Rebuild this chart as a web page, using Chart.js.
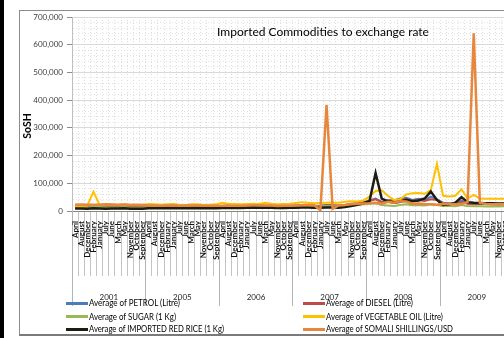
<!DOCTYPE html>
<html><head><meta charset="utf-8">
<script src="https://cdn.jsdelivr.net/npm/chart.js@4.4.1/dist/chart.umd.min.js"></script>
<style>
html,body{margin:0;padding:0;width:504px;height:338px;overflow:hidden;background:#fff;}
#bar{position:absolute;left:0;top:0;width:4px;height:338px;background:#000;}
#frame{position:absolute;left:19px;top:10px;width:620px;height:323px;border:1px solid #8c8c8c;border-bottom:2px solid #7a7a7a;background:#fff;}
#wrap{position:absolute;left:0;top:0;width:520px;height:338px;}
#legend .item{position:absolute;display:flex;align-items:center;font:9.2px Lato, sans-serif;color:#000;white-space:nowrap;height:10px;line-height:10px;}
#legend .sw{display:inline-block;width:22px;height:3px;margin-right:1px;flex:none;}
#legend .tx{display:inline-block;transform-origin:0 50%;}
</style></head>
<body>
<div id="bar"></div>
<div id="frame"></div>
<div id="wrap"><canvas id="c" width="520" height="338"></canvas></div>
<div id="legend"></div>
<script>
const TITLE = 'Imported Commodities to exchange rate';
const Y_TITLE = 'SoSH';
const YEARS = ['2001', '2005', '2006', '2007', '2008', '2009'];
const MONTHS = ['April', 'August', 'December', 'February', 'January', 'July', 'June', 'March', 'May', 'November', 'October', 'September'];
const SERIES_NAMES = ['Average of PETROL (Litre)', 'Average of DIESEL (Litre)', 'Average of SUGAR (1 Kg)', 'Average of VEGETABLE OIL (Litre)', 'Average of IMPORTED RED RICE (1 Kg)', 'Average of SOMALI SHILLINGS/USD'];
const SERIES_COLORS = ['#4A7EBB', '#BE4B48', '#98B954', '#FFC000', '#1E1C11', '#E6873D'];

const PETROL = [
  20000, 19000, 18000, 19000, 20000, 18000, 18000, 19000, 20000, 17000, 18000, 18000,
  17000, 18000, 17000, 17000, 17000, 18000, 18000, 17000, 18000, 17000, 17000, 18000,
  18000, 20000, 17000, 18000, 18000, 22000, 21000, 19000, 20000, 17000, 18000, 19000,
  20000, 21000, 22000, 20000, 19000, 22000, 21000, 20000, 22000, 26000, 28000, 32000,
  38000, 45000, 33000, 40000, 38000, 45000, 48000, 40000, 44000, 38000, 52000, 42000,
  30000, 28000, 26000, 38000, 28000, 26000, 27000, 27000, 26000, 25000, 26000, 25000];
const DIESEL = [
  17000, 16000, 16000, 17000, 17000, 16000, 16000, 16000, 17000, 15000, 15000, 16000,
  16000, 17000, 16000, 16000, 16000, 17000, 17000, 16000, 17000, 16000, 16000, 17000,
  17000, 19000, 16000, 17000, 17000, 20000, 19000, 18000, 18000, 16000, 17000, 18000,
  19000, 20000, 21000, 19000, 18000, 21000, 20000, 19000, 21000, 24000, 27000, 30000,
  36000, 42000, 32000, 38000, 36000, 40000, 42000, 38000, 40000, 36000, 42000, 40000,
  28000, 26000, 24000, 32000, 26000, 24000, 25000, 25000, 24000, 23000, 24000, 23000];
const SUGAR = [
  14000, 13000, 13000, 14000, 14000, 13000, 13000, 13000, 14000, 12000, 12000, 13000,
  13000, 14000, 13000, 13000, 13000, 14000, 14000, 13000, 14000, 13000, 13000, 14000,
  14000, 16000, 14000, 14000, 14000, 17000, 16000, 15000, 15000, 14000, 14000, 15000,
  16000, 17000, 18000, 16000, 16000, 18000, 17000, 16000, 18000, 20000, 22000, 24000,
  26000, 28000, 22000, 20000, 18000, 22000, 24000, 21000, 22000, 20000, 24000, 22000,
  18000, 18000, 17000, 22000, 18000, 17000, 17000, 16000, 16000, 16000, 17000, 17000];
const VEG_OIL = [
  19000, 18000, 20000, 70000, 22000, 24000, 23000, 22000, 24000, 23000, 22000, 23000,
  25000, 24000, 23000, 24000, 25000, 23000, 22000, 24000, 24000, 22000, 23000, 24000,
  30000, 26000, 25000, 24000, 25000, 26000, 25000, 30000, 26000, 24000, 25000, 26000,
  29000, 32000, 30000, 28000, 29000, 30000, 31000, 30000, 33000, 35000, 34000, 38000,
  52000, 72000, 75000, 55000, 40000, 42000, 60000, 64000, 65000, 62000, 75000, 170000,
  55000, 52000, 55000, 78000, 45000, 58000, 45000, 44000, 44000, 44000, 44000, 44000];
const RED_RICE = [
  9000, 9000, 8500, 9500, 9000, 8500, 9000, 9000, 9500, 8500, 8000, 8500,
  10000, 10000, 9500, 10000, 10000, 10500, 10000, 10000, 10500, 9500, 9500, 10000,
  11000, 12000, 11000, 11000, 11500, 12500, 12000, 11500, 12000, 11000, 11000, 11500,
  12000, 13000, 13000, 12000, 12000, 13000, 13000, 12000, 14000, 18000, 22000, 28000,
  35000, 137000, 45000, 35000, 30000, 33000, 40000, 35000, 38000, 45000, 70000, 40000,
  22000, 24000, 30000, 50000, 32000, 30000, 29000, 28000, 28000, 27000, 27000, 27000];
const SHILLINGS = [
  23000, 23500, 22500, 23000, 23000, 24000, 23500, 23000, 23500, 22000, 22500, 22000,
  20000, 19500, 19000, 20000, 20500, 19000, 19500, 20000, 19500, 18500, 18500, 19000,
  19000, 20000, 18500, 19000, 19500, 21000, 20500, 19500, 20000, 18000, 18500, 19000,
  20000, 21000, 22000, 20500, 3000, 383000, 8000, 21000, 22000, 24000, 26000, 27000,
  28000, 30000, 26000, 33000, 30000, 35000, 34000, 26000, 27000, 25000, 24000, 23000,
  26000, 25000, 24000, 25000, 33000, 641000, 30000, 25000, 24000, 24000, 24000, 23000];

const SERIES = [PETROL, DIESEL, SUGAR, VEG_OIL, RED_RICE, SHILLINGS];
const LINE_WIDTHS = [2, 2, 2, 2, 2.5, 2.5];
const labels = YEARS.flatMap(() => MONTHS);

const overlayText = {
  id: 'overlayText',
  afterDraw(chart) {
    const ctx = chart.ctx, a = chart.chartArea;
    ctx.save();
    ctx.fillStyle = '#000';
    ctx.textAlign = 'center';
    ctx.textBaseline = 'middle';
    ctx.font = '12px Lato, sans-serif';
    ctx.fillText(TITLE, a.left + 251, a.top + 15);
    ctx.translate(a.left - 44, a.top + 109);
    ctx.rotate(-Math.PI / 2);
    ctx.font = 'bold 10.5px Lato, sans-serif';
    ctx.fillText(Y_TITLE, 0, 0);
    ctx.restore();
  }
};

const isMajor = (ctx) => ctx.tick && ctx.tick.value % 100000 === 0;

new Chart(document.getElementById('c'), {
  type: 'line',
  data: {
    labels: labels,
    datasets: SERIES.map((d, i) => ({
      label: SERIES_NAMES[i],
      data: d,
      borderColor: SERIES_COLORS[i],
      backgroundColor: SERIES_COLORS[i],
      borderWidth: LINE_WIDTHS[i],
      pointRadius: 0,
      tension: 0,
      order: SERIES.length - i,
      xAxisID: 'x'
    }))
  },
  options: {
    responsive: false,
    devicePixelRatio: 1,
    animation: false,
    events: [],
    layout: { padding: { left: 20, right: 6.4, top: 17, bottom: 0 } },
    plugins: { legend: { display: false }, tooltip: { enabled: false }, title: { display: false } },
    scales: {
      x: {
        type: 'category',
        position: 'bottom',
        offset: true,
        weight: 1,
        grid: {
          offset: true,
          color: '#dcdcdc',
          lineWidth: 1,
          drawTicks: true,
          tickLength: 65,
          tickColor: '#c4c4c4',
          tickBorderDash: []
        },
        border: { display: true, color: '#868686', width: 1, dash: (c) => c.tick ? [1, 2] : [] },
        ticks: {
          autoSkip: false,
          minRotation: 90,
          maxRotation: 90,
          padding: -55,
          color: '#111',
          font: { family: 'Lato', size: 8, weight: 'bold' }
        },
        afterFit: (s) => { s.height = 127; }
      },
      x2: {
        type: 'category',
        labels: YEARS,
        position: 'bottom',
        offset: true,
        weight: 0,
        grid: {
          offset: true,
          drawOnChartArea: false,
          drawTicks: true,
          tickLength: 95,
          tickColor: '#b4b4b4'
        },
        border: { display: false },
        ticks: {
          autoSkip: false,
          maxRotation: 0,
          minRotation: 0,
          mirror: true,
          padding: -90.8,
          color: '#262626',
          font: { family: 'Lato', size: 8 }
        },
        afterFit: (s) => { s.height = 0; }
      },
      y: {
        type: 'linear',
        position: 'left',
        min: 0,
        max: 700000,
        grid: {
          color: (c) => isMajor(c) ? '#d9d9d9' : '#e3e3e3',
          tickColor: (c) => isMajor(c) ? '#8c8c8c' : 'rgba(0,0,0,0)',
          tickLength: 5,
          drawTicks: true
        },
        border: { display: true, color: '#bfbfbf', dash: (c) => (c.tick && c.tick.value % 100000 !== 0) ? [1, 2] : [] },
        ticks: {
          stepSize: 20000,
          autoSkip: false,
          padding: 4,
          color: '#404040',
          font: { family: 'Lato', size: 8 },
          callback: (v) => v % 100000 === 0 ? v.toLocaleString('en-US') : ''
        },
        afterFit: (s) => { s.width = 52; }
      }
    }
  },
  plugins: [overlayText]
});

// HTML legend, two columns, row-major order; text fitted to the reference text widths
const LEG_X = [66, 303];
const LEG_Y = [298, 311.7, 324.3];
const LEG_TEXT_W = [91, 87, 87, 117, 135, 127];
const leg = document.getElementById('legend');
SERIES_NAMES.forEach((name, i) => {
  const it = document.createElement('div');
  it.className = 'item';
  it.style.left = LEG_X[i % 2] + 'px';
  it.style.top = LEG_Y[Math.floor(i / 2)] + 'px';
  const sw = document.createElement('span');
  sw.className = 'sw';
  sw.style.background = SERIES_COLORS[i];
  const tx = document.createElement('span');
  tx.className = 'tx';
  tx.textContent = name;
  it.appendChild(sw);
  it.appendChild(tx);
  leg.appendChild(it);
  const w = tx.getBoundingClientRect().width;
  if (w > 0) tx.style.transform = 'scaleX(' + (LEG_TEXT_W[i] / w).toFixed(3) + ')';
});
</script>
</body></html>
